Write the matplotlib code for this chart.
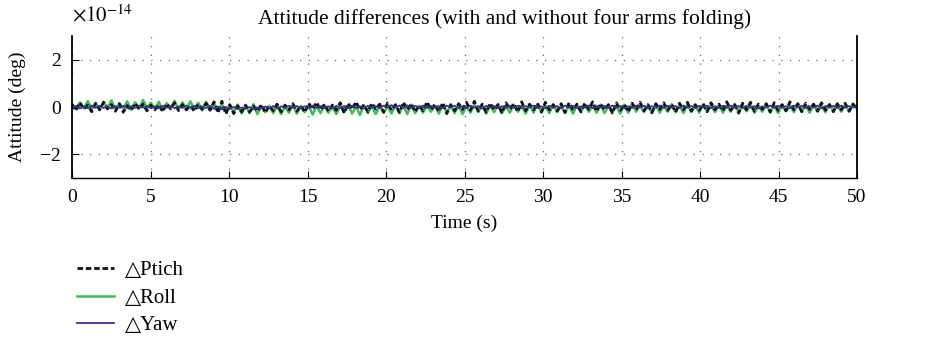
import numpy as np
import matplotlib
matplotlib.use("Agg")
import matplotlib.pyplot as plt

plt.rcParams['font.family'] = ['Liberation Serif', 'DejaVu Serif', 'DejaVu Sans']
plt.rcParams['mathtext.fontset'] = 'stix'

# values in units of 1e-14 deg, hand (noise band)
t_start, t_end = 0, 50
scale = 1e-14

pitch = [
    0.12, -0.15, 0.18, -0.10, 0.08, -0.20, 0.15, -0.12, 0.20, -0.08,
    0.10, -0.18, 0.14, -0.22, 0.06, -0.14, 0.16, -0.10, 0.12, -0.16,
    0.08, -0.12, 0.10, -0.20, 0.14, -0.08, 0.18, -0.15, 0.10, -0.12,
    0.06, -0.18, 0.12, -0.10, 0.16, -0.14, 0.22, -0.25, 0.24, -0.30,
    0.10, -0.28, 0.05, -0.20, 0.08, -0.22, 0.04, -0.18, 0.10, -0.24,
    0.06, -0.15, 0.12, -0.20, 0.08, -0.12, 0.14, -0.18, 0.06, -0.22,
    0.16, -0.10, 0.20, -0.12, 0.12, -0.18, 0.08, -0.14, 0.18, -0.26,
    0.15, -0.10, 0.22, -0.12, 0.10, -0.20, 0.16, -0.08, 0.12, -0.22,
    0.18, -0.14, 0.10, -0.24, 0.20, -0.12, 0.14, -0.20, 0.08, -0.16,
    0.22, -0.12, 0.12, -0.18, 0.18, -0.28, 0.10, -0.16, 0.14, -0.10,
    0.20, -0.14, 0.24, -0.18, 0.12, -0.22, 0.16, -0.12, 0.10, -0.26,
    0.18, -0.10, 0.14, -0.20, 0.22, -0.16, 0.12, -0.12, 0.16, -0.22,
    0.20, -0.12, 0.10, -0.18, 0.14, -0.24, 0.18, -0.14, 0.12, -0.20,
    0.16, -0.10, 0.22, -0.18, 0.14, -0.12, 0.10, -0.26, 0.18, -0.14,
    0.12, -0.20, 0.16, -0.12, 0.20, -0.16, 0.10, -0.24, 0.14, -0.10,
    0.18, -0.14, 0.12, -0.22, 0.16, -0.12, 0.20, -0.18, 0.10, -0.14,
    0.14, -0.20, 0.18, -0.12, 0.12, -0.16, 0.22, -0.14, 0.10, -0.26,
    0.16, -0.12, 0.20, -0.18, 0.12, -0.10, 0.14, -0.22, 0.18, -0.14,
    0.10, -0.16, 0.22, -0.12, 0.14, -0.20, 0.16, -0.10, 0.12, -0.18,
    0.18, -0.14, 0.10, -0.20, 0.14, -0.12, 0.16, -0.18, 0.12, -0.08,
]

roll = [
    0.05, -0.10, 0.20, -0.05, 0.25, -0.08, 0.18, -0.12, 0.22, -0.04,
    0.28, -0.10, 0.15, -0.06, 0.24, -0.12, 0.20, -0.08, 0.30, -0.05,
    0.18, -0.10, 0.22, -0.14, 0.16, -0.06, 0.26, -0.10, 0.20, -0.12,
    0.24, -0.08, 0.18, -0.14, 0.22, -0.10, 0.15, -0.16, 0.12, -0.20,
    0.08, -0.22, 0.10, -0.28, 0.05, -0.25, 0.12, -0.30, 0.06, -0.22,
    0.04, -0.26, 0.08, -0.30, 0.02, -0.24, 0.10, -0.28, 0.05, -0.22,
    0.06, -0.32, 0.04, -0.26, 0.08, -0.24, 0.02, -0.30, 0.06, -0.22,
    0.10, -0.28, 0.04, -0.34, 0.08, -0.26, 0.05, -0.30, 0.06, -0.24,
    0.04, -0.28, 0.08, -0.22, 0.06, -0.30, 0.10, -0.26, 0.04, -0.24,
    0.08, -0.20, 0.06, -0.28, 0.10, -0.22, 0.05, -0.26, 0.08, -0.30,
    0.04, -0.24, 0.10, -0.20, 0.06, -0.28, 0.08, -0.22, 0.12, -0.26,
    0.05, -0.24, 0.10, -0.20, 0.06, -0.28, 0.08, -0.24, 0.12, -0.22,
    0.06, -0.26, 0.10, -0.20, 0.04, -0.24, 0.08, -0.28, 0.10, -0.22,
    0.12, -0.20, 0.06, -0.24, 0.10, -0.26, 0.08, -0.22, 0.04, -0.28,
    0.10, -0.24, 0.12, -0.20, 0.06, -0.22, 0.08, -0.26, 0.10, -0.24,
    0.06, -0.20, 0.12, -0.22, 0.08, -0.26, 0.10, -0.20, 0.06, -0.24,
    0.12, -0.18, 0.08, -0.22, 0.10, -0.24, 0.06, -0.20, 0.12, -0.22,
    0.08, -0.18, 0.10, -0.24, 0.06, -0.20, 0.12, -0.22, 0.08, -0.26,
    0.10, -0.18, 0.06, -0.22, 0.12, -0.20, 0.08, -0.24, 0.10, -0.18,
    0.06, -0.22, 0.12, -0.16, 0.08, -0.20, 0.10, -0.18, 0.14, -0.10,
]

yaw = [
    -0.02, 0.04, -0.06, 0.03, -0.05, 0.06, -0.03, 0.05, -0.04, 0.02,
    -0.06, 0.04, -0.03, 0.05, -0.05, 0.03, -0.04, 0.06, -0.02, 0.04,
    -0.05, 0.03, -0.06, 0.05, -0.03, 0.04, -0.05, 0.02, -0.04, 0.06,
    -0.03, 0.05, -0.06, 0.03, -0.04, 0.05, -0.08, 0.02, -0.10, 0.00,
    -0.08, 0.01, -0.09, -0.02, -0.07, 0.00, -0.10, -0.01, -0.06, 0.02,
    -0.05, 0.04, -0.06, 0.03, -0.04, 0.05, -0.03, 0.04, -0.05, 0.03,
    -0.04, 0.06, -0.02, 0.04, -0.05, 0.03, -0.06, 0.05, -0.03, 0.04,
    -0.05, 0.06, -0.04, 0.03, -0.06, 0.05, -0.02, 0.04, -0.05, 0.06,
    0.00, 0.08, -0.02, 0.06, -0.03, 0.07, -0.04, 0.05, -0.02, 0.06,
    -0.04, 0.05, -0.03, 0.04, -0.05, 0.06, -0.02, 0.05, -0.04, 0.03,
    -0.05, 0.06, -0.03, 0.04, -0.06, 0.05, -0.02, 0.04, -0.05, 0.03,
    -0.04, 0.06, -0.03, 0.05, -0.05, 0.04, -0.02, 0.06, -0.04, 0.03,
    -0.05, 0.05, -0.03, 0.04, -0.06, 0.06, -0.02, 0.05, -0.04, 0.03,
    -0.03, 0.06, -0.05, 0.04, -0.02, 0.05, -0.04, 0.06, -0.03, 0.04,
    -0.05, 0.03, -0.04, 0.06, -0.02, 0.05, -0.05, 0.04, -0.03, 0.06,
    -0.04, 0.05, -0.02, 0.04, -0.05, 0.06, -0.03, 0.04, -0.04, 0.05,
    -0.02, 0.06, -0.05, 0.03, -0.04, 0.05, -0.03, 0.06, -0.02, 0.04,
    -0.05, 0.05, -0.03, 0.04, -0.06, 0.03, -0.02, 0.06, -0.04, 0.05,
    -0.03, 0.04, -0.05, 0.06, -0.02, 0.05, -0.04, 0.03, -0.03, 0.06,
    -0.05, 0.04, -0.02, 0.05, -0.04, 0.06, -0.03, 0.04, -0.02, 0.03,
]

series_names = ['\u25b3Ptich', '\u25b3Roll', '\u25b3Yaw']
colors = ['#111111', '#3cc04c', '#3b2f9a']

x_ticks = [0, 5, 10, 15, 20, 25, 30, 35, 40, 45, 50]
y_ticks = [-2, 0, 2]

fig = plt.figure(figsize=(9.48, 3.4), dpi=100)
ax = fig.add_axes([72 / 948, 1 - 178 / 340, (857 - 72) / 948, (178 - 36) / 340])

t = np.linspace(t_start, t_end, len(roll))
l2, = ax.plot(t, np.array(roll) * scale, color=colors[1], lw=1.8, label=series_names[1])
t = np.linspace(t_start, t_end, len(pitch))
l1, = ax.plot(t, np.array(pitch) * scale, color=colors[0], ls=(0, (2, 1)), lw=2.0,
              label=series_names[0])
t = np.linspace(t_start, t_end, len(yaw))
l3, = ax.plot(t, np.array(yaw) * scale, color=colors[2], lw=1.3, label=series_names[2])

ax.set_xlim(0, 50)
ax.set_ylim(-3e-14, 3e-14)
ax.set_xticks(x_ticks)
ax.set_yticks([v * scale for v in y_ticks])
ax.set_yticklabels(['\u22122', '0', '2'])
ax.tick_params(direction='in', labelsize=14, length=5, width=0.8, pad=8)
ax.grid(True, ls=(0, (1, 6)), color='#666666', lw=0.9)
ax.spines['top'].set_visible(False)
ax.spines['left'].set_linewidth(1.3)
ax.spines['bottom'].set_linewidth(1.0)
ax.spines['right'].set_linewidth(1.3)

ax.set_xlabel('Time (s)', fontsize=14, labelpad=6)
ax.set_ylabel('Attitude (deg)', fontsize=14, labelpad=10)
fig.text(72 / 948, 1 - 16 / 340, r'$\times10^{-14}$', ha='left', va='center', fontsize=15)
fig.text(505 / 948, 1 - 19 / 340, 'Attitude differences (with and without four arms folding)',
         ha='center', va='center', fontsize=15.5)

fig.legend(handles=[l1, l2, l3], loc='upper left', bbox_to_anchor=(58 / 948, 1 - 242 / 340),
           frameon=False, handlelength=1.8, handletextpad=0.5, labelspacing=0.38,
           prop={'family': ['Liberation Serif', 'DejaVu Sans'], 'size': 15})

fig.savefig('out.png', dpi=100)
